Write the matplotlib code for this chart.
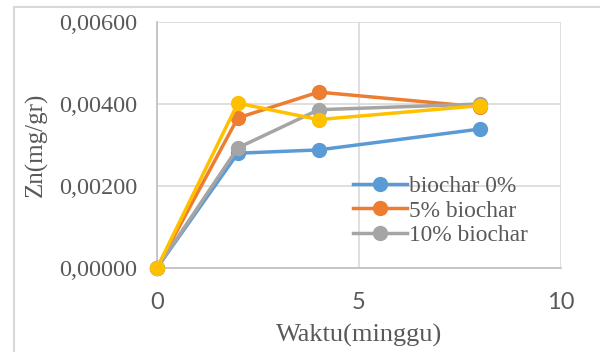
import matplotlib.pyplot as plt
from matplotlib.patches import Rectangle
from matplotlib.ticker import FuncFormatter

# data
weeks = [0, 2, 4, 8]
biochar_0 = [0.0, 0.00280, 0.00288, 0.00339]
biochar_5 = [0.0, 0.00366, 0.00429, 0.00393]
biochar_10 = [0.0, 0.00293, 0.00386, 0.00400]
biochar_x = [0.0, 0.00402, 0.00362, 0.00396]

series = [
    ('biochar 0%', biochar_0, '#5B9BD5'),
    ('5% biochar', biochar_5, '#ED7D31'),
    ('10% biochar', biochar_10, '#A5A5A5'),
    (None, biochar_x, '#FFC000'),
]

txt = '#595959'
serif = 'Liberation Serif'

fig = plt.figure(figsize=(6, 3.52), dpi=100)
# outer chart frame (only top and left edges visible)
fig.patches.append(Rectangle((13.5 / 600, -0.1), 1.2, 1 - 6.5 / 352 + 0.1,
                             transform=fig.transFigure, fill=False,
                             edgecolor='#d9d9d9', lw=1.5))

ax = fig.add_axes([157 / 600, 1 - 268 / 352, (561 - 157) / 600, (268 - 22) / 352])

for name, vals, col in series:
    ax.plot(weeks, vals, color=col, lw=2.5, marker='o', markersize=10,
            label=name if name else '_nolegend_', clip_on=False, zorder=3)

ax.set_xlim(0, 10)
ax.set_ylim(0, 0.006)
ax.set_xticks([0, 5, 10])
ax.set_yticks([0, 0.002, 0.004, 0.006])
ax.yaxis.set_major_formatter(FuncFormatter(lambda v, p: ('%.5f' % v).replace('.', ',')))
ax.grid(True, color='#d9d9d9', lw=1.2)
ax.set_axisbelow(True)

for s in ['top', 'right']:
    ax.spines[s].set_visible(False)
for s in ['left', 'bottom']:
    ax.spines[s].set_color('#bfbfbf')
    ax.spines[s].set_linewidth(1.2)

ax.tick_params(axis='y', length=0, labelsize=17.5, labelcolor=txt, pad=14)
ax.tick_params(axis='x', length=0, labelsize=17, labelcolor=txt, pad=17)
for lab in ax.get_yticklabels():
    lab.set_fontfamily(serif)
for lab in ax.get_xticklabels():
    lab.set_fontfamily('Lato')

ax.set_xlabel('Waktu(minggu)', fontsize=19, color=txt, family=serif, labelpad=8)
ax.set_ylabel('Zn(mg/gr)', fontsize=18, color=txt, family=serif, labelpad=8)

leg = ax.legend(loc='lower left', bbox_to_anchor=(0.462, 0.05), frameon=False,
                prop={'family': serif, 'size': 16.8}, labelcolor=txt,
                handlelength=2.3, handletextpad=0.1, labelspacing=0.15,
                borderaxespad=0)

fig.savefig('out.png', dpi=100)
